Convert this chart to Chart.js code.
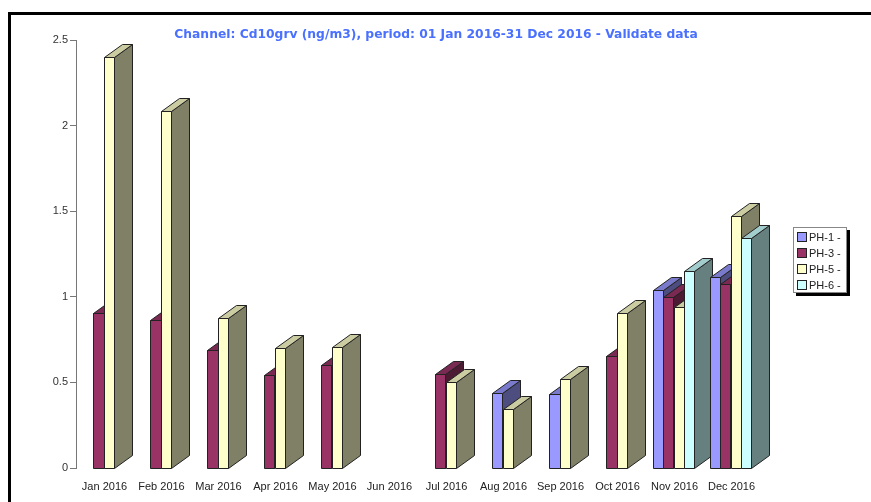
<!DOCTYPE html>
<html>
<head>
<meta charset="utf-8">
<script src="https://cdn.jsdelivr.net/npm/chart.js@4/dist/chart.umd.min.js"></script>
<style>
    html, body { margin: 0; padding: 0; background: #fff; overflow: hidden; }
    #frame { position: absolute; left: 8px; top: 12px; width: 900px; height: 540px; border: 3px solid #000; box-sizing: border-box; }
    #wrap { position: absolute; left: 0; top: 0; width: 871px; height: 502px; }
</style>
</head>
<body>
<div id="frame"></div>
<div id="wrap"><canvas id="chart" width="871" height="502"></canvas></div>
<script>
const months = ['Jan 2016', 'Feb 2016', 'Mar 2016', 'Apr 2016', 'May 2016', 'Jun 2016',
                'Jul 2016', 'Aug 2016', 'Sep 2016', 'Oct 2016', 'Nov 2016', 'Dec 2016'];
const ph1 = [null, null, null, null, null, null, null, 0.44, 0.43, null, 1.04, 1.116];
const ph3 = [0.905, 0.865, 0.69, 0.543, 0.60, null, 0.55, null, null, 0.655, 1.0, 1.075];
const ph5 = [2.40, 2.085, 0.876, 0.70, 0.707, null, 0.50, 0.345, 0.52, 0.905, 0.94, 1.47];
const ph6 = [null, null, null, null, null, null, null, null, null, null, 1.15, 1.343];
const seriesNames = ['PH-1 -', 'PH-3 -', 'PH-5 -', 'PH-6 -'];
const seriesColors = ['#9999ff', '#993366', '#ffffcc', '#ccffff'];
const yTicks = [0, 0.5, 1, 1.5, 2, 2.5];
const titleText = 'Channel: Cd10grv (ng/m3), period: 01 Jan 2016-31 Dec 2016 - Validate data';

function shade(hex, f) {
    const n = parseInt(hex.slice(1), 16);
    const r = Math.round(((n >> 16) & 255) * f);
    const g = Math.round(((n >> 8) & 255) * f);
    const b = Math.round((n & 255) * f);
    return 'rgb(' + r + ',' + g + ',' + b + ')';
}

function poly(ctx, pts, fill) {
    ctx.beginPath();
    ctx.moveTo(pts[0][0], pts[0][1]);
    for (let k = 1; k < pts.length; k++) ctx.lineTo(pts[k][0], pts[k][1]);
    ctx.closePath();
    ctx.fillStyle = fill;
    ctx.fill();
    ctx.stroke();
}

// draws every bar as a 3d block (side, top, front), left to right
const bars3d = {
    id: 'bars3d',
    afterDatasetsDraw(chart) {
        const ctx = chart.ctx;
        const dx = 18, dy = 13;
        ctx.save();
        ctx.lineWidth = 1;
        ctx.strokeStyle = '#222';
        for (let i = 0; i < months.length; i++) {
            chart.data.datasets.forEach((ds, d) => {
                const bar = chart.getDatasetMeta(d).data[i];
                if (ds.data[i] == null || !bar) return;
                const L = Math.round(bar.x - bar.width / 2) - 0.5;
                const R = Math.round(bar.x + bar.width / 2) - 0.5;
                const T = Math.round(bar.y) + 0.5;
                const B = Math.round(bar.base) + 0.5;
                const c = seriesColors[d];
                poly(ctx, [[R, T], [R + dx, T - dy], [R + dx, B - dy], [R, B]], shade(c, 0.5));
                poly(ctx, [[L, T], [R, T], [R + dx, T - dy], [L + dx, T - dy]], shade(c, 0.8));
                poly(ctx, [[L, T], [R, T], [R, B], [L, B]], c);
            });
        }
        ctx.restore();
    }
};

const titleAndLegend = {
    id: 'titleAndLegend',
    afterDraw(chart) {
        const ctx = chart.ctx;
        ctx.save();
        ctx.font = 'bold 12.3px "DejaVu Sans"';
        ctx.fillStyle = '#4a70ff';
        ctx.textAlign = 'center';
        ctx.textBaseline = 'middle';
        ctx.fillText(titleText, 436, 34.5);

        // legend box with shadow
        const bx = 793, by = 227, bw = 54, bh = 66;
        ctx.fillStyle = '#000';
        ctx.fillRect(bx + 3, by + 3, bw, bh);
        ctx.fillStyle = '#fff';
        ctx.fillRect(bx, by, bw, bh);
        ctx.strokeStyle = '#888';
        ctx.lineWidth = 1;
        ctx.strokeRect(bx + 0.5, by + 0.5, bw - 1, bh - 1);
        ctx.font = '11px "Liberation Sans"';
        ctx.textAlign = 'left';
        seriesNames.forEach((name, d) => {
            const cy = by + 10 + d * 16;
            ctx.fillStyle = seriesColors[d];
            ctx.fillRect(bx + 4.5, cy - 4.5, 9, 9);
            ctx.strokeStyle = '#222';
            ctx.strokeRect(bx + 4.5, cy - 4.5, 9, 9);
            ctx.fillStyle = '#222';
            ctx.fillText(name, bx + 16, cy + 0.5);
        });
        ctx.restore();
    }
};

const seriesValues = [ph1, ph3, ph5, ph6];

new Chart(document.getElementById('chart').getContext('2d'), {
    type: 'bar',
    data: {
        labels: months,
        datasets: seriesNames.map((name, d) => ({
            label: name,
            data: seriesValues[d],
            backgroundColor: 'rgba(0,0,0,0)',
            borderWidth: 0,
            barThickness: 10.3,
            skipNull: true
        }))
    },
    options: {
        responsive: false,
        animation: false,
        layout: { padding: { top: 40, right: 111, bottom: 0, left: 0 } },
        plugins: {
            legend: { display: false },
            title: { display: false },
            tooltip: { enabled: false }
        },
        scales: {
            x: {
                grid: { display: false, drawTicks: false },
                border: { display: false },
                ticks: {
                    color: '#222',
                    font: { family: 'Liberation Sans', size: 11 },
                    padding: 12,
                    maxRotation: 0,
                    autoSkip: false
                },
                afterFit(scale) { scale.height = 34; }
            },
            y: {
                min: 0,
                max: 2.5,
                afterBuildTicks(scale) { scale.ticks = yTicks.map(v => ({ value: v })); },
                ticks: {
                    color: '#333',
                    font: { family: 'Liberation Sans', size: 11 },
                    padding: 2,
                    callback: value => String(value)
                },
                grid: { display: true, drawOnChartArea: false, drawTicks: true, tickLength: 6, color: '#777' },
                border: { display: true, color: '#777' },
                afterFit(scale) { scale.width = 76; }
            }
        }
    },
    plugins: [bars3d, titleAndLegend]
});
</script>
</body>
</html>
